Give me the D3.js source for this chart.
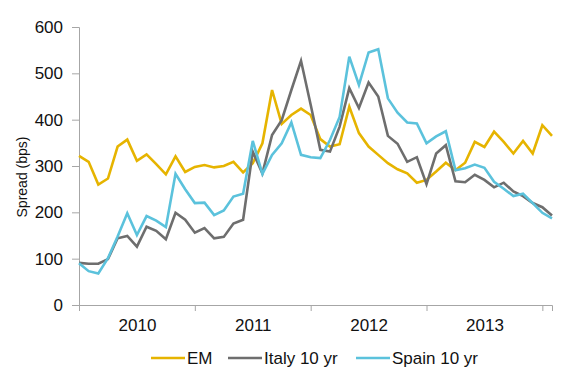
<!DOCTYPE html>
<html>
<head>
<meta charset="utf-8">
<script src="https://cdn.jsdelivr.net/npm/d3@7"></script>
<style>
  body { margin: 0; background: #fff; }
  text { font-family: "Liberation Sans", Arial, sans-serif; }
</style>
</head>
<body>
<div id="chart"></div>
<script>
// monthly observations, Jan 2010 onward
const em = [322, 309, 260, 273, 342, 357, 311, 325, 304, 282, 321, 287,
            298, 302, 297, 300, 309, 286, 306, 349, 464, 391, 410, 424,
            410, 358, 342, 347, 428, 371, 342, 324, 306, 293, 284, 264,
            270, 288, 307, 291, 307, 352, 341, 374, 352, 327, 354, 327,
            388, 365];
const italy = [91, 89, 89, 99, 144, 149, 126, 169, 160, 142, 199, 184,
               156, 166, 144, 147, 176, 184, 331, 284, 367, 399, 464, 527,
               432, 335, 331, 385, 468, 425, 480, 450, 365, 348, 309, 319,
               261, 327, 345, 267, 265, 281, 270, 254, 264, 245, 235, 220,
               211, 193];
const spain = [90, 73, 68, 101, 148, 198, 151, 192, 182, 168, 283, 250,
               220, 221, 194, 204, 234, 240, 354, 283, 324, 349, 394, 324,
               319, 317, 356, 406, 536, 475, 545, 552, 446, 415, 394, 392,
               349, 364, 375, 291, 295, 303, 296, 266, 251, 235, 240, 220,
               199, 187];
const years = ['2010', '2011', '2012', '2013'];
const seriesNames = ['EM', 'Italy 10 yr', 'Spain 10 yr'];
const yTicks = [0, 100, 200, 300, 400, 500, 600];

const colors = ['#E6B400', '#6E6E6E', '#5BC2DC'];
const width = 580, height = 378;
const margin = { top: 27, right: 28, bottom: 73, left: 79 };
const innerW = width - margin.left - margin.right;
const innerH = height - margin.top - margin.bottom;

const svg = d3.select('#chart').append('svg')
    .attr('width', width)
    .attr('height', height);

const g = svg.append('g')
    .attr('transform', `translate(${margin.left},${margin.top})`);

const x = d3.scaleLinear().domain([0, em.length - 1]).range([0, innerW]);
const y = d3.scaleLinear().domain([0, 600]).range([innerH, 0]);

// y axis
const yAxis = g.append('g')
    .call(d3.axisLeft(y).tickValues(yTicks).tickSize(7).tickPadding(9));
yAxis.selectAll('text').attr('font-size', 17).attr('fill', '#111')
    .attr('font-family', '"Liberation Sans", Arial, sans-serif');
yAxis.selectAll('line, path').attr('stroke', '#a6a6a6');

// x axis: year boundaries as ticks, year labels centred between them
const xAxis = g.append('g')
    .attr('transform', `translate(0,${innerH})`)
    .call(d3.axisBottom(x).tickValues([0, 12, 24, 36, 48]).tickSize(6).tickFormat(''));
xAxis.selectAll('line, path').attr('stroke', '#a6a6a6');

const xLabels = g.append('g')
    .attr('transform', `translate(0,${innerH})`)
    .call(d3.axisBottom(x).tickValues([6, 18, 30, 42]).tickSize(0).tickPadding(14)
        .tickFormat((d, i) => years[i]));
xLabels.select('.domain').remove();
xLabels.selectAll('text').attr('font-size', 17).attr('fill', '#111')
    .attr('font-family', '"Liberation Sans", Arial, sans-serif');

// y label
svg.append('text')
    .attr('transform', `translate(27,${margin.top + innerH / 2 + 11}) rotate(-90)`)
    .attr('text-anchor', 'middle')
    .attr('font-size', 14)
    .attr('fill', '#111')
    .text('Spread (bps)');

// lines
const line = d3.line()
    .x((d, i) => x(i))
    .y(d => y(d));

[em, italy, spain].forEach((s, k) => {
    g.append('path')
        .datum(s)
        .attr('fill', 'none')
        .attr('stroke', colors[k])
        .attr('stroke-width', 2.6)
        .attr('stroke-linejoin', 'miter')
        .attr('d', line);
});

// legend
const legendX = [151, 228, 356];
const legend = svg.append('g').attr('transform', 'translate(0,358)');
seriesNames.forEach((name, k) => {
    legend.append('line')
        .attr('x1', legendX[k]).attr('x2', legendX[k] + 34)
        .attr('y1', 0).attr('y2', 0)
        .attr('stroke', colors[k]).attr('stroke-width', 2.6);
    legend.append('text')
        .attr('x', legendX[k] + 36).attr('y', 6)
        .attr('font-size', 17).attr('fill', '#111')
        .text(name);
});
</script>
</body>
</html>
